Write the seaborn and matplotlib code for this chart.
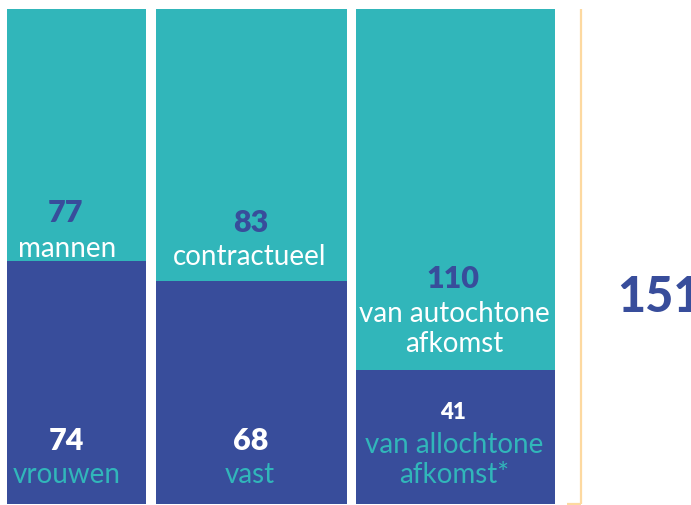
import matplotlib
matplotlib.use("Agg")
import matplotlib.pyplot as plt
import seaborn as sns
import pandas as pd

# Data
groups = ["geslacht", "contract", "afkomst"]
totals = [151, 151, 151]
bottom_values = [74, 68, 41]
top_values = [77, 83, 110]
bottom_labels = ["vrouwen", "vast", "van allochtone\nafkomst*"]
top_labels = ["mannen", "contractueel", "van autochtone\nafkomst"]
total_label = "151"

teal = "#31B6BA"
blue = "#384D9B"
line_col = "#FDD9A0"

sns.set_style("white")
plt.rcParams['font.family'] = ['Lato', 'DejaVu Sans']

W, H = 691, 506
fig = plt.figure(figsize=(W / 100, H / 100), dpi=100)
# axes spans pixel rows 10..505 of the figure
ax = fig.add_axes([0, 1 / H, 1, 495 / H])

df = pd.DataFrame({"group": groups, "total": totals, "bottom": bottom_values})
sns.barplot(data=df, x="group", y="total", color=teal, saturation=1, linewidth=0, ax=ax)
sns.barplot(data=df, x="group", y="bottom", color=blue, saturation=1, linewidth=0, ax=ax)

# bars have different widths in the original, put them in pixel units
bar_left = [7, 156, 356]
bar_width = [139, 191, 199]
for i, p in enumerate(ax.patches):
    k = i % 3
    p.set_x(bar_left[k])
    p.set_width(bar_width[k])

ax.set_xlim(0, W)
ax.set_ylim(0, 151)
ax.axis("off")


def py(px):
    # pixel row of figure -> data y
    return (505 - px) / 495 * 151


# label positions (x center, baselines in pixel rows)
num_x = [66, 251, 453]
lab_x = [67, 250, 454]
top_num_base = [222, 232, 288]
top_lab_base = [257, 265, 322]
bot_num_base = [450, 450, 419]
bot_lab_base = [483, 483, 453]
bot_num_size = [22, 22, 16]

for k in range(3):
    ax.text(num_x[k], py(top_num_base[k]), str(top_values[k]), ha="center", va="baseline",
            fontsize=22, fontweight="heavy", color=blue)
    lines = top_labels[k].split("\n")
    for j, s in enumerate(lines):
        ax.text(lab_x[k], py(top_lab_base[k] + 30 * j), s, ha="center", va="baseline",
                fontsize=20, color="white")
    ax.text(num_x[k], py(bot_num_base[k]), str(bottom_values[k]), ha="center", va="baseline",
            fontsize=bot_num_size[k], fontweight="heavy", color="white")
    lines = bottom_labels[k].split("\n")
    for j, s in enumerate(lines):
        ax.text(lab_x[k], py(bot_lab_base[k] + 30 * j), s, ha="center", va="baseline",
                fontsize=20, color=teal)

# bracket line on the right
ax.plot([581.5, 581.5], [0, 151], color=line_col, lw=1.6, clip_on=False, solid_capstyle="butt")
ax.plot([567, 581.5], [0, 0], color=line_col, lw=1.6, clip_on=False, solid_capstyle="butt")

ax.text(617, py(312), total_label, ha="left", va="baseline", fontsize=35,
        fontweight="black", color=blue, clip_on=False)

fig.savefig("out.png", dpi=100)
